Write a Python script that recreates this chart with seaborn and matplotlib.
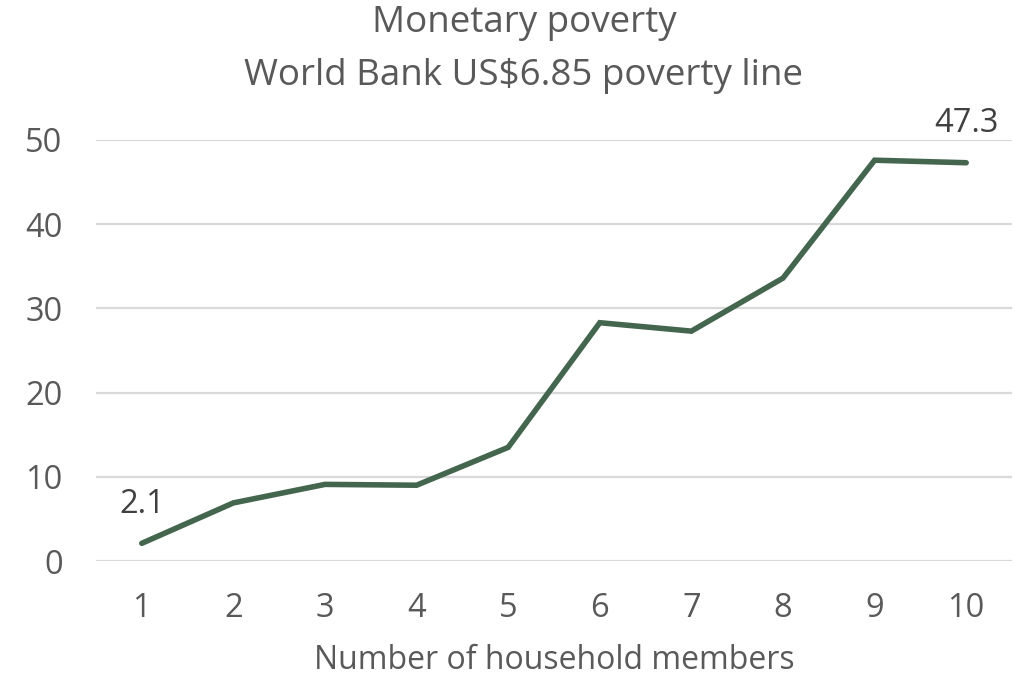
import matplotlib
matplotlib.use("Agg")
import matplotlib.pyplot as plt
import seaborn as sns
import pandas as pd

# Household size vs. poverty rate (%)
members = [1, 2, 3, 4, 5, 6, 7, 8, 9, 10]
poverty_rate = [2.1, 6.9, 9.1, 9.0, 13.5, 28.3, 27.3, 33.6, 47.6, 47.3]
y_ticks = [0, 10, 20, 30, 40, 50]
labelled = [1, 10]

sns.set_theme(style="white")
plt.rcParams["font.family"] = ["Open Sans", "DejaVu Sans"]

TEXT = "#595959"
LINE = "#44664f"

df = pd.DataFrame({"members": members, "rate": poverty_rate})

fig = plt.figure(figsize=(10.14, 6.79), dpi=100)
ax = fig.add_axes([96 / 1014, 1 - 561 / 679, (1012 - 96) / 1014, (561 - 140) / 679])

sns.lineplot(data=df, x="members", y="rate", ax=ax, color=LINE, linewidth=4.0,
             solid_joinstyle="miter", solid_capstyle="round", clip_on=False)

ax.set_xlim(0.5, 10.5)
ax.set_ylim(0, 50)
ax.set_yticks(y_ticks)
ax.set_xticks(members)
ax.yaxis.grid(True, color="#d9d9d9", linewidth=1.6)
ax.set_axisbelow(True)
for s in ax.spines.values():
    s.set_visible(False)
ax.tick_params(axis="both", length=0, labelsize=23.5, labelcolor=TEXT)
ax.tick_params(axis="x", pad=22)
ax.tick_params(axis="y", pad=24)
ax.set_xlabel("Number of household members", fontsize=23, color=TEXT, labelpad=14)
ax.set_ylabel("")

for m, v in zip(members, poverty_rate):
    if m in labelled:
        ax.annotate(f"{v:.1f}", (m, v), xytext=(0, 28), textcoords="offset points",
                    ha="center", va="center", fontsize=23.5, color="#404040")

fig.text(524 / 1014, 1 - 23 / 679, "Monetary poverty", ha="center", va="center",
         fontsize=26.5, color=TEXT)
fig.text(524 / 1014, 1 - 76 / 679, "World Bank US$6.85 poverty line", ha="center",
         va="center", fontsize=26.5, color=TEXT)

fig.savefig("out.png", dpi=100, facecolor="white")
